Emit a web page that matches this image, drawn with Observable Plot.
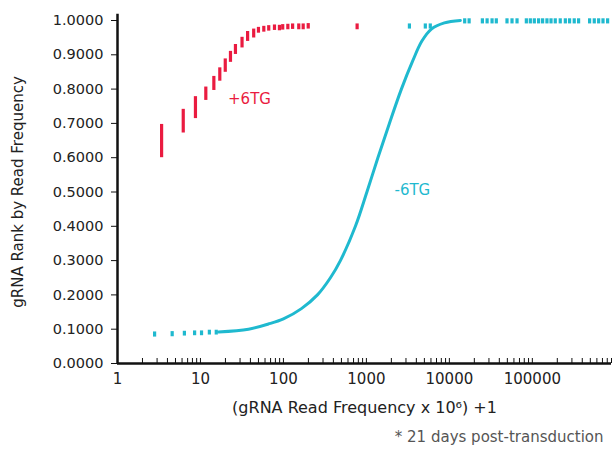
<!DOCTYPE html>
<html>
<head>
<meta charset="utf-8">
<script src="https://cdn.jsdelivr.net/npm/d3@7"></script>
<script src="https://cdn.jsdelivr.net/npm/@observablehq/plot@0.6"></script>
<style>
  html, body { margin: 0; padding: 0; background: #fff; }
  svg { display: block; }
</style>
</head>
<body>
<div id="chart"></div>
<script>
// +6TG series: read frequency (x) and rank span (lo..hi)
const redX  = [3.4, 6.2, 8.7, 11.6, 14.5, 17.1, 19.9, 23, 26.4, 31.7, 37, 43.8, 50, 58, 66.5, 78, 89.5, 98, 113, 129, 153, 173, 199, 773];
const redLo = [0.600, 0.672, 0.714, 0.767, 0.796, 0.823, 0.849, 0.878, 0.901, 0.920, 0.939, 0.949, 0.963, 0.966, 0.969, 0.971, 0.970, 0.972, 0.973, 0.974, 0.973, 0.973, 0.975, 0.973];
const redHi = [0.697, 0.741, 0.778, 0.806, 0.837, 0.862, 0.888, 0.910, 0.930, 0.951, 0.968, 0.975, 0.980, 0.983, 0.985, 0.987, 0.986, 0.988, 0.989, 0.990, 0.990, 0.990, 0.991, 0.990];

// -6TG series: discrete dashes
const cyanX  = [2.8, 4.56, 6.4, 8.5, 10.3, 12.8, 15.5, 3300, 5130, 5890, 15300, 17300, 25000, 28500, 32700, 36800, 49500, 56900, 65400, 84700, 94600, 105700, 119000, 133000, 150000, 168000, 189000, 217000, 250000, 281000, 320000, 361000, 490000, 558000, 630000, 711000, 808000];
const cyanLo = [0.077, 0.078, 0.080, 0.081, 0.081, 0.083, 0.083, 0.975, 0.975, 0.975, 0.990, 0.990, 0.990, 0.990, 0.990, 0.990, 0.990, 0.990, 0.990, 0.990, 0.990, 0.990, 0.990, 0.990, 0.990, 0.990, 0.990, 0.990, 0.990, 0.990, 0.990, 0.990, 0.990, 0.990, 0.990, 0.990, 0.990];
const cyanHi = [0.092, 0.093, 0.094, 0.095, 0.095, 0.097, 0.097, 0.990, 0.990, 0.990, 1.005, 1.005, 1.005, 1.005, 1.005, 1.005, 1.005, 1.005, 1.005, 1.005, 1.005, 1.005, 1.005, 1.005, 1.005, 1.005, 1.005, 1.005, 1.005, 1.005, 1.005, 1.005, 1.005, 1.005, 1.005, 1.005, 1.005];

// -6TG continuous curve
const curveX = [16.5, 37.9, 65.9, 100, 164.8, 256.8, 368.5, 486, 737, 1014, 1376, 1893, 2641, 3583, 4665, 6069, 8706, 13570];
const curveY = [0.092, 0.100, 0.115, 0.130, 0.160, 0.200, 0.250, 0.300, 0.400, 0.500, 0.600, 0.700, 0.800, 0.880, 0.940, 0.975, 0.993, 1.000];

const xTickLabels = [1, 10, 100, 1000, 10000, 100000];
const yTickValues = [0, 0.1, 0.2, 0.3, 0.4, 0.5, 0.6, 0.7, 0.8, 0.9, 1.0];

const RED = "#ea1b40";
const CYAN = "#1fb9cf";

const seriesLabels = [
  {text: "+6TG", x: 39, y: 0.77, color: RED},
  {text: "-6TG", x: 3580, y: 0.504, color: CYAN}
];

const red = redX.map((x, i) => ({x, lo: redLo[i], hi: redHi[i]}));
const cyan = cyanX.map((x, i) => ({x, lo: cyanLo[i], hi: cyanHi[i]}));
const curve = curveX.map((x, i) => ({x, y: curveY[i]}));

// minor ticks for log axis (2..9 per decade plus decades)
const minorTicks = [];
for (let e = 0; e <= 5; e++) {
  for (let m = 1; m <= 9; m++) {
    const v = m * Math.pow(10, e);
    if (v > 1 && v <= 900000) minorTicks.push(v);
  }
}

const font = "DejaVu Sans, Verdana, sans-serif";

const chart = Plot.plot({
  width: 616,
  height: 452,
  marginLeft: 117,
  marginRight: 5,
  marginTop: 20,
  marginBottom: 89,
  style: {fontFamily: font, fontSize: "15px", color: "#222", background: "#fff"},
  x: {type: "log", domain: [1, 900000]},
  y: {domain: [0, 1]},
  marks: [
    Plot.axisY({ticks: yTickValues, tickFormat: d3.format(".4f"), tickSize: 6, tickPadding: 8, label: null, fontSize: 14.5, stroke: "#111"}),
    Plot.axisX({ticks: xTickLabels, tickFormat: d => String(d), tickSize: 0, tickPadding: 10, label: null, fontSize: 15}),
    Plot.tickX(minorTicks, {x: d => d, insetTop: 338, stroke: "#111", strokeWidth: 1}),
    Plot.ruleY([0], {stroke: "#111", strokeWidth: 2.5}),
    Plot.ruleX([1], {y1: 0, y2: 1.018, stroke: "#111", strokeWidth: 2.5}),
    Plot.line(curve, {x: "x", y: "y", stroke: CYAN, strokeWidth: 3, curve: "catmull-rom"}),
    Plot.ruleX(red, {x: "x", y1: "lo", y2: "hi", stroke: RED, strokeWidth: 3.2}),
    Plot.ruleX(cyan, {x: "x", y1: "lo", y2: "hi", stroke: CYAN, strokeWidth: 3.2}),
    Plot.text(seriesLabels, {x: "x", y: "y", text: "text", fill: "color", fontSize: 15}),
    Plot.text(["(gRNA Read Frequency x 10\u2076) +1"], {frameAnchor: "bottom", dy: 49, dx: 0, fontSize: 16, fill: "#222"}),
    Plot.text(["* 21 days post-transduction"], {frameAnchor: "bottom-right", dy: 78, dx: -8, textAnchor: "end", fontSize: 15, fill: "#555"}),
    Plot.text(["gRNA Rank by Read Frequency"], {frameAnchor: "left", dx: -99, rotate: -90, textAnchor: "middle", fontSize: 15, fill: "#222"})
  ]
});

document.getElementById("chart").appendChild(chart);
</script>
</body>
</html>
